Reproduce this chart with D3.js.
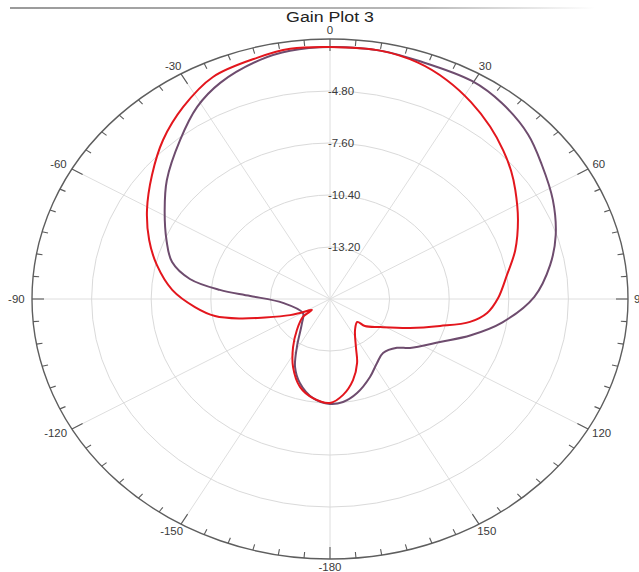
<!DOCTYPE html>
<html>
<head>
<meta charset="utf-8">
<script src="https://cdn.jsdelivr.net/npm/d3@7"></script>
<style>
  html, body { margin: 0; padding: 0; background: #fff; overflow: hidden; }
  svg { display: block; font-family: "Liberation Sans", Arial, sans-serif; }
</style>
</head>
<body>
<svg id="chart" width="639" height="572"></svg>
<script>
// Gain pattern, angle in degrees (0 = top, clockwise) and gain in dB
const redAngles = [0,10,18,25,32,39,45.4,51,56,64.3,73.2,81.2,89.6,95.8,100.6,105.7,112.6,122.7,131.6,134,144.8,154.8,159.7,166.1,173.2,180,188.5,196.6,205.3,213.8,223,232.8,235,241.9,245.2,252,256.1,260.4,266.1,273.8,282.7,290.5,299.1,308.6,317.5,326.3,335.3,345.2,352.1];
const redGain = [-2.43,-2.42,-2.62,-3.0,-3.5,-4.05,-4.58,-5.05,-5.5,-6.2,-6.91,-7.59,-8.1,-8.58,-9.31,-10.63,-11.93,-13.2,-13.81,-14.22,-13.96,-13.14,-12.33,-11.5,-10.8,-10.4,-10.6,-11.06,-11.94,-12.88,-13.72,-14.4,-14.97,-14.4,-13.93,-12.79,-11.64,-10.52,-9.64,-8.57,-7.66,-6.93,-6.16,-5.3,-4.39,-3.57,-2.84,-2.57,-2.4];

const purpleAngles = [0,10,18.3,29.7,37.5,46.4,54,63,72,80,89.3,98.8,106.4,114.1,125,129.9,139.4,147.3,155.9,165.9,173.7,180,188.5,197.4,204.1,211,225.6,239.3,264.6,272.5,275.4,279.3,285,292.3,301.4,309.9,320.6,328.9,336.1,345.7,352];
const purpleGain = [-2.43,-2.42,-2.52,-2.5,-2.72,-3.15,-3.7,-4.25,-4.85,-5.5,-6.4,-7.8,-9.1,-10.34,-11.41,-11.9,-12.17,-11.91,-11.4,-10.78,-10.42,-10.35,-10.6,-11.26,-11.98,-12.98,-14.16,-14.52,-13.78,-12.25,-10.8,-9.33,-8.32,-7.7,-6.9,-6.01,-4.91,-3.92,-3.27,-2.71,-2.5];

// Axis definitions
const angleTicks = [0,30,60,90,120,150,180,210,240,270,300,330];
const angleTickLabels = ["0","30","60","90","120","150","-180","-150","-120","-90","-60","-30"];
const radialTicks = [-13.2,-10.4,-7.6,-4.8];
const radialTickLabels = ["-13.20","-10.40","-7.60","-4.80"];
const gainRange = [-16, -2];
const titleText = "Gain Plot 3";

const svg = d3.select("#chart");
const cx = 330, cy = 299, rx = 298, ry = 260;
const stretch = rx / ry;   // plot area is wider than tall; text follows the same aspect

// fraction of the outer ring for a gain value
const r = d3.scaleLinear().domain(gainRange).range([0, 1]);
const toRad = d => d * Math.PI / 180;
function pt(deg, frac) {
  const a = toRad(deg);
  return [cx + rx * frac * Math.sin(a), cy - ry * frac * Math.cos(a)];
}
function wideText(sel, x, y) {
  return sel.attr("x", 0).attr("y", 0)
    .attr("transform", `translate(${x},${y}) scale(${stretch},1)`);
}

// top rule with fade-out
const defs = svg.append("defs");
const grad = defs.append("linearGradient").attr("id", "rule").attr("x1", "0").attr("x2", "1");
grad.append("stop").attr("offset", "0").attr("stop-color", "#9a9a9a");
grad.append("stop").attr("offset", "0.7").attr("stop-color", "#b8b8b8");
grad.append("stop").attr("offset", "1").attr("stop-color", "#ffffff");
svg.append("rect").attr("x", 10).attr("y", 7).attr("width", 585).attr("height", 2).attr("fill", "url(#rule)");

// title
wideText(svg.append("text"), cx, 22).attr("text-anchor", "middle")
  .attr("font-size", 15.5).attr("fill", "#222").text(titleText);

const grid = svg.append("g");
// spokes
const spokeAngles = d3.range(0, 360, 30);
grid.selectAll("line.spoke").data(spokeAngles).join("line")
  .attr("x1", cx).attr("y1", cy)
  .attr("x2", d => pt(d, 1)[0]).attr("y2", d => pt(d, 1)[1])
  .attr("stroke", "#dedede").attr("stroke-width", 1);
// rings
grid.selectAll("ellipse.ring").data(radialTicks).join("ellipse")
  .attr("cx", cx).attr("cy", cy)
  .attr("rx", d => rx * r(d)).attr("ry", d => ry * r(d))
  .attr("fill", "none").attr("stroke", "#dadada").attr("stroke-width", 1);

// outer ring
svg.append("ellipse").attr("cx", cx).attr("cy", cy).attr("rx", rx).attr("ry", ry)
  .attr("fill", "none").attr("stroke", "#5e5e5e").attr("stroke-width", 1.4);

// angular ticks every 5 degrees, longer every 30
const tickAngles = d3.range(0, 360, 5);
svg.append("g").selectAll("line").data(tickAngles).join("line")
  .each(function(d) {
    const p = pt(d, 1);
    const dx = cx - p[0], dy = cy - p[1];
    const len = Math.hypot(dx, dy);
    const L = d % 30 === 0 ? 12 : 6;
    d3.select(this).attr("x1", p[0]).attr("y1", p[1])
      .attr("x2", p[0] + dx / len * L).attr("y2", p[1] + dy / len * L);
  })
  .attr("stroke", "#5a5a5a").attr("stroke-width", 1.1);

// angle labels
svg.append("g").selectAll("text").data(angleTicks).join("text")
  .each(function(d, i) {
    const p = pt(d, 1);
    const a = toRad(d);
    const s = Math.sin(a), c = Math.cos(a);
    const label = angleTickLabels[i];
    const hw = label.length * 3.2;
    const x = p[0] + s * 6 + s * hw;
    const y = p[1] - c * 7 - c * 1.5;
    wideText(d3.select(this), x, y).attr("dy", "0.35em").text(label);
  })
  .attr("text-anchor", "middle").attr("font-size", 10).attr("fill", "#3a3a3a");

// radial labels
svg.append("g").selectAll("text").data(radialTicks).join("text")
  .each(function(d, i) {
    wideText(d3.select(this), cx - 2, cy - ry * r(d)).attr("dy", "0.35em").text(radialTickLabels[i]);
  })
  .attr("font-size", 10).attr("fill", "#3a3a3a");

// traces
const line = d3.line()
  .x(d => pt(d[0], r(d[1]))[0])
  .y(d => pt(d[0], r(d[1]))[1])
  .curve(d3.curveCatmullRomClosed.alpha(0.5));

const purpleData = purpleAngles.map((a, i) => [a, purpleGain[i]]);
const redData = redAngles.map((a, i) => [a, redGain[i]]);

svg.append("path").datum(purpleData).attr("d", line)
  .attr("fill", "none").attr("stroke", "#6e4c6e").attr("stroke-width", 2);
svg.append("path").datum(redData).attr("d", line)
  .attr("fill", "none").attr("stroke", "#e3161d").attr("stroke-width", 2);
</script>
</body>
</html>
